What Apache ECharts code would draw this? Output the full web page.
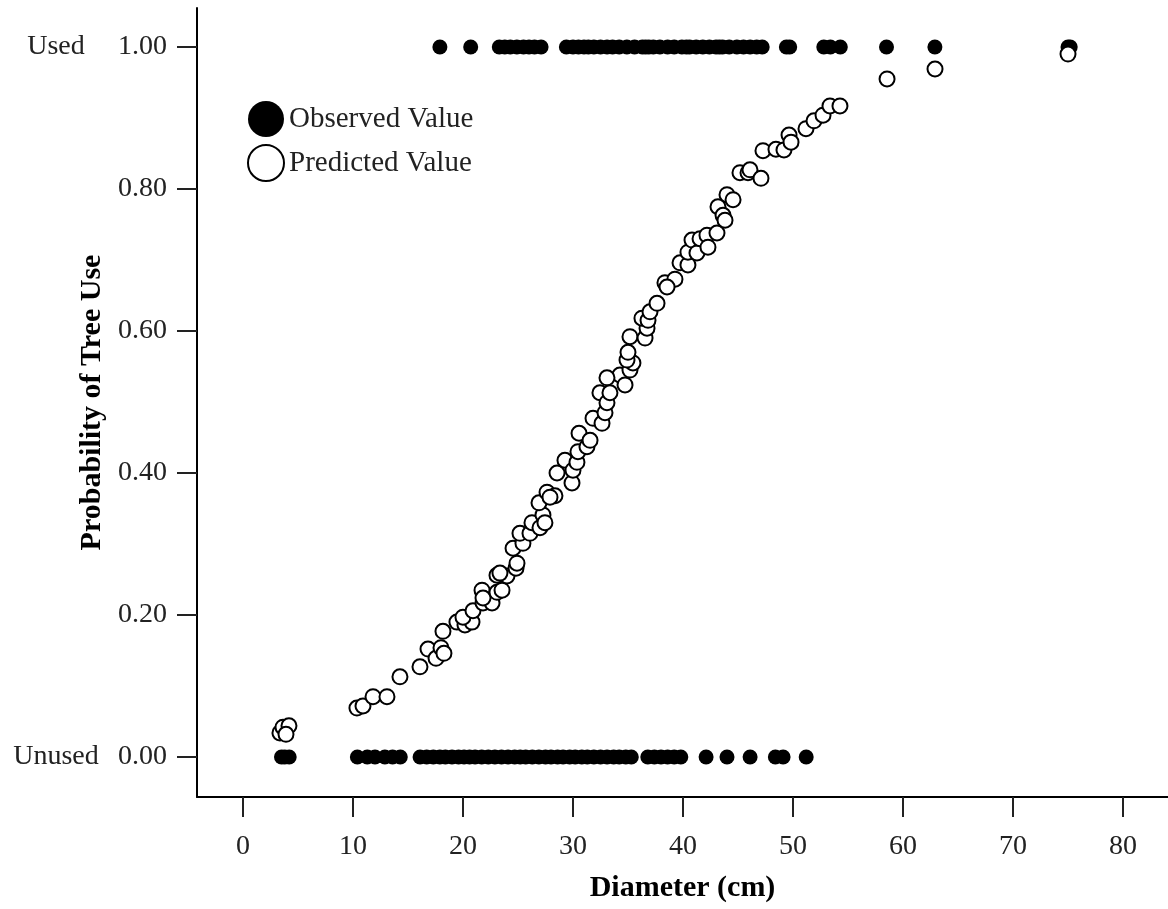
<!DOCTYPE html>
<html>
<head>
<meta charset="utf-8">
<script src="https://cdn.jsdelivr.net/npm/echarts@6/dist/echarts.min.js"></script>
<style>html,body{margin:0;padding:0;background:#fff;}#c{width:1168px;height:909px;}</style>
</head>
<body>
<div id="c"></div>
<script>
// Observed values: diameters of used trees (value 1) and unused trees (value 0)
const usedDiam = [17.9, 20.7, 23.3, 23.8, 24.3, 24.9, 25.5, 26.0, 26.5, 27.1,
  29.4, 30.0, 30.5, 31.0, 31.4, 31.9, 32.5, 33.1, 33.6, 34.2, 34.9, 35.6, 36.3, 36.6, 36.9,
  37.3, 37.9, 38.6, 39.2, 39.9, 40.3, 40.6, 41.2, 41.8, 42.4, 43.0, 43.3, 43.6, 44.2, 44.9,
  45.5, 46.1, 46.7, 47.2, 49.4, 49.7, 52.8, 53.4, 54.3, 58.5, 62.9, 75.0, 75.2];
const unusedDiam = [3.5, 3.8, 4.2, 10.4, 11.3, 12.0, 12.9, 13.6, 14.3,
  16.1, 16.7, 17.3, 17.9, 18.4, 19.0, 19.6, 20.1, 20.6, 21.1, 21.7, 22.3, 22.9, 23.5, 24.1,
  24.7, 25.2, 25.7, 26.3, 26.9, 27.5, 28.0, 28.6, 29.1, 29.7, 30.2, 30.8, 31.3, 31.9, 32.5,
  33.1, 33.7, 34.2, 34.8, 35.3, 36.8, 37.4, 38.0, 38.6, 39.2, 39.8,
  42.1, 44.0, 46.1, 48.4, 49.1, 51.2];
// Predicted values (diameter, probability)
const predDiam = [3.36, 3.64, 4.18, 3.91, 10.36, 10.91, 11.82, 13.09, 14.27, 16.09,
  16.82, 17.55, 18.0, 18.27, 18.18, 19.45, 20.18, 20.82, 20.0, 20.91, 21.82, 22.64,
  21.73, 21.82, 23.09, 23.55, 23.09, 24.0, 24.82, 24.91, 23.36, 24.55, 25.45, 25.18, 26.09,
  26.27, 27.0, 27.27, 27.45, 26.91, 27.64, 28.36, 27.91, 28.55, 29.27, 29.91, 30.0, 30.36,
  30.45, 31.27, 30.55, 31.55, 31.82, 32.64, 32.91, 32.45, 33.09, 33.36, 34.27, 34.73, 35.18,
  35.45, 33.09, 34.91, 35.0, 35.18, 36.55, 36.73, 36.27, 36.82, 37.0, 37.64, 38.36, 39.27,
  38.55, 39.73, 40.45, 40.45, 40.82, 41.27, 41.55, 42.18, 42.27, 43.09, 43.18, 43.64, 43.82,
  44.0, 44.55, 45.18, 45.91, 46.09, 47.09, 47.27, 48.45, 49.18, 49.64, 49.82, 51.18, 51.91,
  52.73, 53.36, 54.27, 58.55, 62.91, 75.0];
const predProb = [0.034, 0.042, 0.044, 0.032, 0.069, 0.072, 0.085, 0.085, 0.113, 0.127,
  0.152, 0.139, 0.154, 0.146, 0.177, 0.190, 0.186, 0.190, 0.197, 0.206, 0.217, 0.217,
  0.235, 0.224, 0.232, 0.235, 0.256, 0.255, 0.266, 0.273, 0.259, 0.294, 0.301, 0.315, 0.315,
  0.330, 0.323, 0.341, 0.330, 0.358, 0.373, 0.368, 0.366, 0.400, 0.418, 0.386, 0.404, 0.415,
  0.430, 0.437, 0.456, 0.446, 0.477, 0.470, 0.485, 0.513, 0.499, 0.513, 0.538, 0.524, 0.545,
  0.555, 0.534, 0.559, 0.570, 0.592, 0.590, 0.604, 0.618, 0.615, 0.627, 0.639, 0.668, 0.673,
  0.662, 0.696, 0.693, 0.711, 0.728, 0.710, 0.730, 0.735, 0.718, 0.738, 0.775, 0.763, 0.756,
  0.792, 0.785, 0.823, 0.823, 0.827, 0.815, 0.854, 0.856, 0.855, 0.876, 0.866, 0.885, 0.896,
  0.904, 0.917, 0.917, 0.955, 0.969, 0.990];
const xTicks = [0, 10, 20, 30, 40, 50, 60, 70, 80];
const yTicks = [0, 0.2, 0.4, 0.6, 0.8, 1.0];
const yCategoryTicks = [0, 1];
const yCategoryLabels = {0: 'Unused', 1: 'Used'};

const FONT = '"Liberation Serif", "DejaVu Serif", serif';
const observedData = usedDiam.map(d => [d, 1]).concat(unusedDiam.map(d => [d, 0]));
const predictedData = predDiam.map((d, i) => [d, predProb[i]]);

const chart = echarts.init(document.getElementById('c'), null, {renderer: 'canvas'});
const yMin = -0.0563, yMax = 1.0549;
chart.setOption({
  animation: false,
  backgroundColor: '#fff',
  textStyle: {fontFamily: FONT},
  grid: {left: 197, right: 0, top: 8, bottom: 112, containLabel: false},
  legend: {
    orient: 'vertical', left: 242, top: 96, itemWidth: 36, itemHeight: 36, itemGap: 7,
    textStyle: {fontFamily: FONT, fontSize: 29, color: '#222'},
    data: [
      {name: 'Observed Value', icon: 'circle', itemStyle: {color: '#000', borderWidth: 0}},
      {name: 'Predicted Value', icon: 'circle', itemStyle: {color: '#fff', borderColor: '#000', borderWidth: 2}}
    ]
  },
  xAxis: {
    type: 'value', min: -4.18, max: 84.09,
    name: 'Diameter (cm)', nameLocation: 'middle', nameGap: 76,
    nameTextStyle: {fontFamily: FONT, fontSize: 30, fontWeight: 'bold', color: '#000'},
    splitLine: {show: false},
    axisLine: {show: true, onZero: false, lineStyle: {color: '#000', width: 2}},
    axisTick: {show: true, length: 20, customValues: xTicks, lineStyle: {color: '#222', width: 2}},
    axisLabel: {customValues: xTicks, margin: 36, fontFamily: FONT, fontSize: 28, color: '#222'}
  },
  yAxis: [{
    type: 'value', min: yMin, max: yMax,
    name: 'Probability of Tree Use', nameLocation: 'middle', nameGap: 84,
    nameTextStyle: {fontFamily: FONT, fontSize: 30, fontWeight: 'bold', color: '#000'},
    splitLine: {show: false},
    axisLine: {show: true, onZero: false, lineStyle: {color: '#000', width: 2}},
    axisTick: {show: true, length: 20, customValues: yTicks, lineStyle: {color: '#222', width: 2}},
    axisLabel: {customValues: yTicks, margin: 30, fontFamily: FONT, fontSize: 28, color: '#222',
      formatter: v => v.toFixed(2)}
  }, {
    type: 'value', min: yMin, max: yMax, position: 'left', offset: 141,
    splitLine: {show: false}, axisLine: {show: false, onZero: false}, axisTick: {show: false},
    axisLabel: {customValues: yCategoryTicks, margin: 0, align: 'center', fontFamily: FONT, fontSize: 28, color: '#222',
      formatter: v => yCategoryLabels[Math.round(v)] || ''}
  }],
  series: [
    {name: 'Observed Value', type: 'scatter', data: observedData, symbol: 'circle', symbolSize: 15,
      itemStyle: {color: '#000', opacity: 1}, z: 2},
    {name: 'Predicted Value', type: 'scatter', data: predictedData, symbol: 'circle', symbolSize: 15,
      itemStyle: {color: '#fff', borderColor: '#000', borderWidth: 2, opacity: 1}, z: 3}
  ]
});
</script>
</body>
</html>
